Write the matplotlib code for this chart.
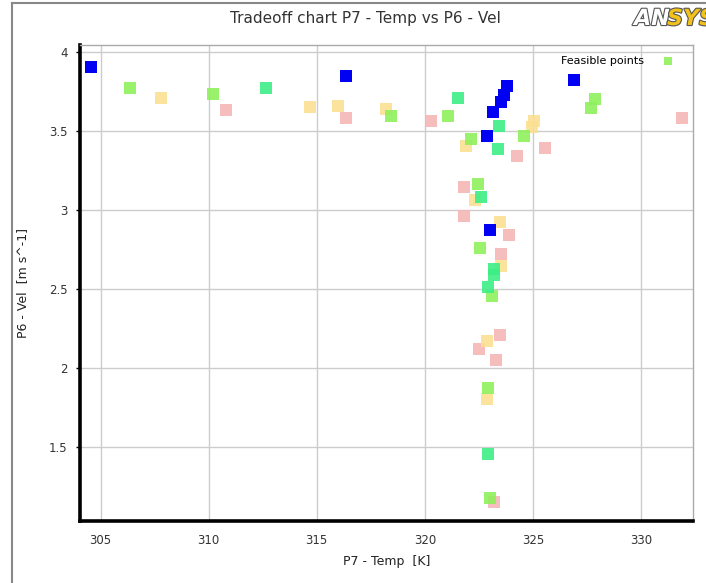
#############################################################
# Importing Libraries
#############################################################
import matplotlib
matplotlib.use('Agg')
import matplotlib.pyplot as plt
import matplotlib.patheffects as pe
from matplotlib.lines import Line2D

#############################################################
# Data (P7 - Temp [K], P6 - Vel [m s^-1])
#############################################################
# dark blue points
blue_temp = [304.56, 316.37, 323.82, 323.64, 323.53, 323.13, 322.87, 323.02, 326.88]
blue_vel = [3.905, 3.846, 3.785, 3.726, 3.684, 3.621, 3.469, 2.873, 3.821]

# mint green points
mint_temp = [312.64, 321.53, 323.43, 323.36, 322.59, 323.21, 323.21, 322.92, 322.92]
mint_vel = [3.769, 3.706, 3.532, 3.385, 3.080, 2.627, 2.589, 2.509, 1.451]

# lime green points
lime_temp = [306.36, 310.21, 318.44, 321.06, 322.14, 324.60, 327.88, 327.69,
             322.45, 322.53, 323.10, 322.92, 323.02]
lime_vel = [3.769, 3.731, 3.594, 3.594, 3.448, 3.463, 3.699, 3.646,
            3.162, 2.758, 2.452, 1.873, 1.178]

# yellow points
yellow_temp = [307.81, 314.69, 315.97, 318.21, 321.91, 325.05, 324.95,
               322.33, 323.49, 323.53, 322.87, 322.87]
yellow_vel = [3.709, 3.652, 3.657, 3.636, 3.400, 3.562, 3.520,
              3.058, 2.919, 2.641, 2.167, 1.799]

# pink points
pink_temp = [310.79, 316.37, 320.28, 324.26, 325.57, 331.87, 321.79, 321.79,
             323.87, 323.53, 323.49, 322.48, 323.30, 323.21]
pink_vel = [3.632, 3.577, 3.562, 3.341, 3.393, 3.583, 3.143, 2.962,
            2.842, 2.720, 2.210, 2.121, 2.047, 1.152]

x_ticks = [305, 310, 315, 320, 325, 330]
y_ticks = [1.5, 2, 2.5, 3, 3.5, 4]
y_tick_labels = ['1.5', '2', '2.5', '3', '3.5', '4']

#############################################################
# Plotting
#############################################################
plt.rcParams['font.family'] = ['DejaVu Sans']

fig = plt.figure(figsize=(7.06, 5.83), dpi=100)
ax = fig.add_axes([80/706, 1-521/583, (693-80)/706, (521-44.5)/583])

ms = 72
ax.scatter(pink_temp, pink_vel, s=ms, marker='s', color='#f6b6b6', alpha=0.9, lw=0, zorder=3)
ax.scatter(yellow_temp, yellow_vel, s=ms, marker='s', color='#fbe092', alpha=0.9, lw=0, zorder=3)
ax.scatter(lime_temp, lime_vel, s=ms, marker='s', color='#8ef05c', alpha=0.9, lw=0, zorder=4,
           label='Feasible points')
ax.scatter(mint_temp, mint_vel, s=ms, marker='s', color='#3cee86', alpha=0.9, lw=0, zorder=4)
ax.scatter(blue_temp, blue_vel, s=ms, marker='s', color='#0000f2', lw=0, zorder=5)

ax.set_xlim(304.05, 332.4)
ax.set_ylim(1.03, 4.045)
ax.set_xticks(x_ticks)
ax.set_yticks(y_ticks)
ax.set_xticklabels([str(t) for t in x_ticks])
ax.set_yticklabels(y_tick_labels)

ax.grid(True, color='#cccccc', lw=1, zorder=0)
ax.set_axisbelow(True)

for side in ['left', 'bottom']:
    ax.spines[side].set_linewidth(2.6)
    ax.spines[side].set_color('black')
for side in ['top', 'right']:
    ax.spines[side].set_linewidth(1)
    ax.spines[side].set_color('#aaaaaa')

ax.tick_params(axis='y', direction='out', length=3, width=1, colors='black',
               labelcolor='#333333', labelsize=8.5, pad=6)
ax.tick_params(axis='x', length=0, labelcolor='#333333', labelsize=8.5, pad=9)

ax.set_xlabel('P7 - Temp  [K]', fontsize=9, color='#222222', labelpad=6)
ax.set_ylabel('P6 - Vel  [m s^-1]', fontsize=9, color='#222222', labelpad=14)

ax.legend(loc='upper right', bbox_to_anchor=(0.985, 0.985), frameon=False,
          markerfirst=False, markerscale=0.75, fontsize=8, handletextpad=1.2,
          borderaxespad=0)

fig.text(365/706, 1-18/583, 'Tradeoff chart P7 - Temp vs P6 - Vel', ha='center',
         va='center', fontsize=11, color='#333333')

# ANSYS logo, cut at the right edge as in the screenshot
logo_fx = [pe.withStroke(linewidth=1.6, foreground='#555555')]
fig.text(634/706, 1-19/583, 'AN', ha='left', va='center', fontsize=16,
         fontweight='bold', fontstyle='italic', color='white', path_effects=logo_fx)
fig.text(667/706, 1-19/583, 'SYS', ha='left', va='center', fontsize=16,
         fontweight='bold', fontstyle='italic', color='#f2c21b', path_effects=logo_fx)

# outer window frame
fig.add_artist(Line2D([12/706, 12/706], [0, 1-3/583], color='#888888', lw=1.5))
fig.add_artist(Line2D([12/706, 1], [1-3/583, 1-3/583], color='#888888', lw=1.5))

fig.savefig('out.png', dpi=100)
plt.close(fig)
print('Finished')
